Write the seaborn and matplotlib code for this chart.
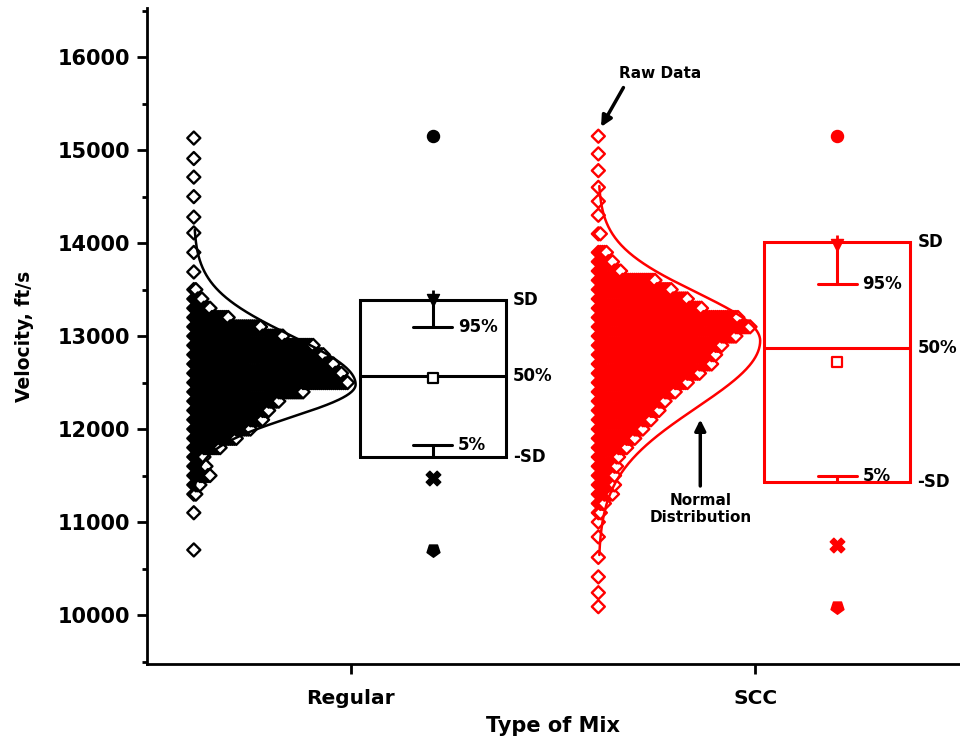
import numpy as np
import pandas as pd
import matplotlib
matplotlib.use("Agg")
import matplotlib.pyplot as plt
import seaborn as sns
from matplotlib.ticker import MultipleLocator

mixes = ["Regular", "SCC"]
mix_colors = ["black", "red"]

regular_vel = [15130, 14910, 14710, 14500, 14280, 14110, 13900, 13690, 13500,
               13400, 13300, 13200, 13100, 13000, 12900, 12800, 12700, 12600, 12500,
               12400, 12300, 12200, 12100, 12000, 11900, 11800, 11700, 11600, 11500, 11400,
               11300, 11100, 10700]
regular_cnt = [1, 1, 1, 1, 1, 1, 1, 1, 2,
               5, 9, 18, 34, 45, 60, 65, 70, 74, 77,
               55, 43, 38, 35, 29, 22, 14, 6, 7, 9, 4,
               2, 1, 1]

scc_vel = [15150, 14960, 14780, 14600, 14450, 14300,
           14100, 13900, 13800, 13700, 13600, 13500, 13400, 13300, 13200, 13100, 13000,
           12900, 12800, 12700, 12600, 12500, 12400, 12300, 12200, 12100, 12000,
           11900, 11800, 11700, 11600, 11500, 11400, 11300, 11200, 11100, 11000,
           10840, 10620, 10410, 10240, 10090]
scc_cnt = [1, 1, 1, 1, 1, 1,
           2, 5, 8, 12, 29, 37, 45, 52, 70, 76, 69,
           62, 59, 57, 51, 45, 39, 34, 31, 27, 23,
           19, 15, 11, 10, 9, 9, 8, 4, 2, 1,
           1, 1, 1, 1, 1]

# box chart statistics (ft/s)
mean_vel = [12545, 12720]
sd_vel = [845, 1290]
median_vel = [12570, 12870]
p95_vel = [13100, 13560]
p5_vel = [11830, 11495]
p99_vel = [13390, 13980]
p1_vel = [11470, 10750]
max_vel = [15150, 15150]
min_vel = [10700, 10090]

# normal distribution overlay: centre, upper / lower spread, height (x units)
norm_center = [12480, 12950]
norm_sd_hi = [520, 520]
norm_sd_lo = [350, 720]
norm_height = [0.40, 0.40]


def stack_points(vel, cnt, base, step=0.005):
    rows = []
    for v, c in zip(vel, cnt):
        for k in range(c):
            rows.append((k, base + k * step, v))
    df = pd.DataFrame(rows, columns=["k", "x", "Velocity"])
    # draw column by column so only the outer diamonds keep a white face
    return df.sort_values(["k", "Velocity"]).reset_index(drop=True)


sns.set_theme(style="ticks")
plt.rcParams["font.family"] = ["DejaVu Sans"]
plt.rcParams["font.weight"] = "bold"
plt.rcParams.update({"text.color": "black", "axes.labelcolor": "black",
                     "xtick.color": "black", "ytick.color": "black"})

fig = plt.figure(figsize=(9.6, 7.44), dpi=100)
ax = fig.add_axes([0.153, 0.1075, 0.847, 0.8815])

groups = [(regular_vel, regular_cnt), (scc_vel, scc_cnt)]
for i, (vel, cnt) in enumerate(groups):
    pos = i + 1
    col = mix_colors[i]
    base = pos - 0.388

    # raw data, stacked like a histogram
    pts = stack_points(vel, cnt, base)
    sns.scatterplot(data=pts, x="x", y="Velocity", marker="D", s=44,
                    color="white", edgecolor=col, linewidth=1.7,
                    ax=ax, legend=False, zorder=2)
    # per-point face colours -> markers are drawn at sub-pixel positions
    coll = ax.collections[-1]
    coll.set_facecolor(np.tile([1.0, 1.0, 1.0, 1.0], (len(pts), 1)))
    coll.set_snap(False)

    # normal distribution curve
    yy = np.linspace(norm_center[i] - 3.2 * norm_sd_lo[i],
                     norm_center[i] + 3.2 * norm_sd_hi[i], 400)
    sd = np.where(yy >= norm_center[i], norm_sd_hi[i], norm_sd_lo[i])
    xx = base + norm_height[i] * np.exp(-0.5 * ((yy - norm_center[i]) / sd) ** 2)
    ax.plot(xx, yy, color=col, lw=1.8, zorder=3)

    # box = mean +/- SD
    c = pos + 0.2025
    hw = 0.18
    top = mean_vel[i] + sd_vel[i]
    bot = mean_vel[i] - sd_vel[i]
    ax.plot([c - hw, c + hw, c + hw, c - hw, c - hw], [bot, bot, top, top, bot],
            color=col, lw=2.2, solid_joinstyle="miter", zorder=3)
    ax.plot([c - hw, c + hw], [median_vel[i]] * 2, color=col, lw=2.2, zorder=3)

    # 5 / 95 % whiskers
    cw = 0.048
    ax.plot([c, c], [top, p95_vel[i]], color=col, lw=2.2, zorder=3)
    ax.plot([c - cw, c + cw], [p95_vel[i]] * 2, color=col, lw=2.2, zorder=3)
    ax.plot([c, c], [bot, p5_vel[i]], color=col, lw=2.2, zorder=3)
    ax.plot([c - cw, c + cw], [p5_vel[i]] * 2, color=col, lw=2.2, zorder=3)

    # mean, extremes and 1 / 99 %
    ax.scatter([c], [mean_vel[i]], marker="s", s=45, facecolor="white",
               edgecolor=col, linewidth=1.6, zorder=4)
    ax.scatter([c], [max_vel[i]], marker="o", s=75, color=col, zorder=4)
    ax.scatter([c], [min_vel[i]], marker=(5, 0, 180), s=95, color=col, zorder=4)
    ax.scatter([c], [p1_vel[i]], marker="X", s=110, color=col, zorder=4)
    ax.scatter([c], [p99_vel[i]], marker="v", s=75, color=col, zorder=4)
    ax.scatter([c], [p99_vel[i]], marker="|", s=200, color=col, linewidth=2, zorder=4)

    # labels next to the box
    lab = dict(fontsize=12, fontweight="bold", color="black", va="center", ha="left")
    ax.text(c + hw + 0.018, top, "SD", **lab)
    ax.text(c + hw + 0.018, median_vel[i], "50%", **lab)
    ax.text(c + hw + 0.018, bot, "-SD", **lab)
    ax.text(c + cw + 0.014, p95_vel[i], "95%", **lab)
    ax.text(c + cw + 0.014, p5_vel[i], "5%", **lab)

arrow = dict(arrowstyle="-|>", color="black", lw=2.5, mutation_scale=16)
ax.annotate("Raw Data", xy=(1.617, 15237), xytext=(1.765, 15828),
            ha="center", va="center", fontsize=11, fontweight="bold",
            arrowprops=dict(arrow, relpos=(0.1, 0.0), shrinkA=3, shrinkB=1))
ax.annotate("Normal\nDistribution", xy=(1.864, 12118), xytext=(1.864, 11140),
            ha="center", va="center", fontsize=11, fontweight="bold", linespacing=1.1,
            arrowprops=dict(arrow, shrinkA=3, shrinkB=1))

ax.set_xlim(0.496, 2.506)
ax.set_ylim(9473, 16527)
ax.set_xticks([1, 2])
ax.set_xticklabels(mixes)
ax.set_yticks(range(10000, 16001, 1000))
ax.yaxis.set_minor_locator(MultipleLocator(500))
ax.tick_params(axis="both", which="major", direction="out", length=7, width=2,
               color="black", pad=5)
ax.tick_params(axis="y", which="minor", direction="out", length=3.5, width=2, color="black")
ax.tick_params(axis="y", labelsize=15)
ax.tick_params(axis="x", labelsize=14.5, pad=11)
for lbl in ax.get_xticklabels() + ax.get_yticklabels():
    lbl.set_fontweight("bold")

ax.set_xlabel("Type of Mix", fontsize=15, fontweight="bold", labelpad=6)
ax.set_ylabel("Velocity, ft/s", fontsize=13.5, fontweight="bold", labelpad=17)

sns.despine(ax=ax)
for side in ["left", "bottom"]:
    ax.spines[side].set_linewidth(2)
    ax.spines[side].set_color("black")

fig.savefig("out.png", dpi=100)
